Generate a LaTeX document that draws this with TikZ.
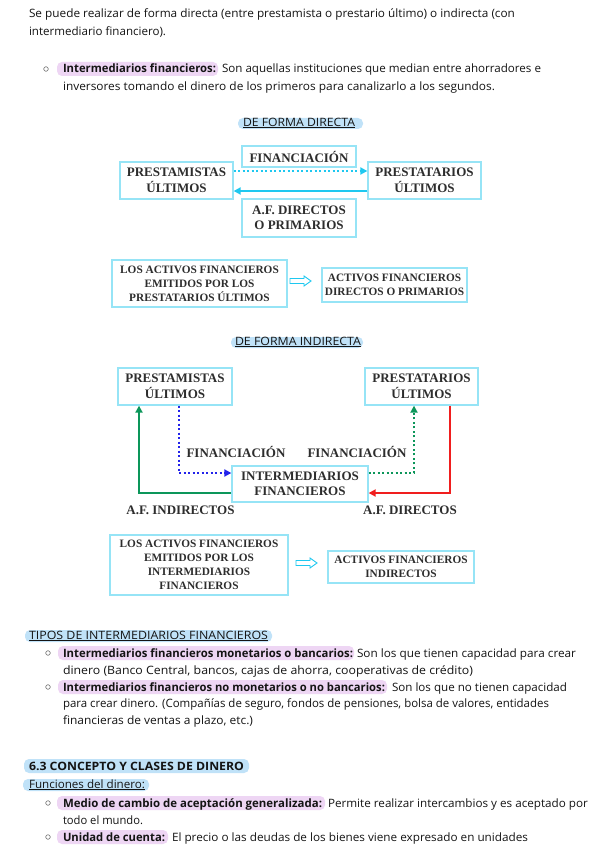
\documentclass[tikz,border=0pt]{standalone}
\usepackage{fontspec}
\usepackage{graphicx}
\usetikzlibrary{arrows.meta}
\newfontfamily\hand{Open Sans}
\newfontfamily\tnr{Liberation Serif}
\definecolor{ink}{RGB}{20,20,20}
\definecolor{dink}{RGB}{45,45,45}
\definecolor{boxc}{RGB}{150,228,246}
\definecolor{cyanar}{RGB}{30,200,240}
\definecolor{bluear}{RGB}{35,35,235}
\definecolor{greenar}{RGB}{12,150,90}
\definecolor{redar}{RGB}{240,30,30}
\definecolor{hlpink}{RGB}{238,214,244}
\definecolor{hlblue}{RGB}{192,226,248}
\newcommand\fitw[2]{\resizebox{#1pt}{\height}{#2}}
\newcommand\tline[5]{\node[txt] (#1) at (#2,#3+4) {\fitw{#4}{#5}};}
\newcommand\bline[5]{\node[txt] (#1) at (#2,#3+4) {\fitw{#4}{\bfseries #5}};}
\begin{document}
\begin{tikzpicture}[x=1pt,y=-1pt,
  txt/.style={anchor=base west,inner sep=0pt,outer sep=0pt,text=ink,font=\hand\fontsize{11.5}{13}\selectfont},
  bul/.style={circle,draw=ink!70,line width=0.5pt,minimum size=4.6pt,inner sep=0pt},
  hlp/.style={fill=hlpink,rounded corners=5pt},
  hlb/.style={fill=hlblue,rounded corners=5pt},
  dbox/.style={draw=boxc,line width=1.3pt,inner sep=0pt,align=center,text=dink,
     font=\tnr\bfseries\fontsize{13}{15.5}\selectfont},
  sbox/.style={draw=boxc,line width=1.3pt,inner sep=0pt,align=center,text=dink,
     font=\tnr\bfseries\fontsize{11.3}{14}\selectfont},
  dlabel/.style={inner sep=0pt,text=dink,font=\tnr\bfseries\fontsize{13}{15.5}\selectfont},
  arr/.style={line width=2pt,-{Triangle[length=7pt,width=7pt]}},
  dotarr/.style={arr,dash pattern=on 2.3pt off 2.2pt},
  hollow/.style={draw=cyanar,line width=0.9pt,fill=white}
]
\useasboundingbox (0,0) rectangle (599,848);
\fill[white] (0,0) rectangle (599,848);

% ---------- top text ----------
\tline{l1}{29}{14}{486}{Se puede realizar de forma directa (entre prestamista o prestario último) o indirecta (con}
\tline{l2}{29}{32}{137}{intermediario financiero).}
\fill[hlp] (57,62) rectangle (218,76);
\node[bul] (b1) at (46,69) {};
\bline{b1b}{63}{69}{153}{Intermediarios financieros:}
\tline{b1r}{222}{69}{319}{Son aquellas instituciones que median entre ahorradores e}
\tline{l4}{63}{87}{432}{inversores tomando el dinero de los primeros para canalizarlo a los segundos.}

% ---------- direct ----------
\fill[hlb] (238,118) rectangle (363,129);
\tline{h1}{243}{122}{112}{\underline{DE FORMA DIRECTA}}

\node[dbox,minimum width=113pt,minimum height=37pt] (pl) at (176.5,180.5) {PRESTAMISTAS\\ÚLTIMOS};
\node[dbox,minimum width=113pt,minimum height=37pt] (pt) at (424.5,180.5) {PRESTATARIOS\\ÚLTIMOS};
\node[dbox,minimum width=114pt,minimum height=21pt] (fin) at (299,156.5) {FINANCIACIÓN};
\node[dbox,minimum width=114pt,minimum height=38pt] (afd) at (299,218) {A.F. DIRECTOS\\O PRIMARIOS};
\draw[dotarr,cyanar] ([yshift=9.5pt]pl.east) -- ([yshift=9.5pt]pt.west);
\draw[arr,cyanar] ([yshift=-10.5pt]pt.west) -- ([yshift=-10.5pt]pl.east);

\node[sbox,minimum width=175pt,minimum height=47pt] (la1) at (199.5,283.5) {LOS ACTIVOS FINANCIEROS\\EMITIDOS POR LOS\\PRESTATARIOS ÚLTIMOS};
\node[sbox,minimum width=145pt,minimum height=34pt] (ad1) at (394.5,285) {ACTIVOS FINANCIEROS\\DIRECTOS O PRIMARIOS};
\coordinate (a1) at (290,281);
\draw[hollow] (a1) ++(0,-2.5) -- ++(14,0) -- ++(0,-2.5) -- ++(7,5) -- ++(-7,5) -- ++(0,-2.5) -- ++(-14,0) -- cycle;

% ---------- indirect ----------
\fill[hlb] (231,337) rectangle (363,348);
\tline{h2}{235}{341}{126}{\underline{DE FORMA INDIRECTA}}

\node[dbox,minimum width=114pt,minimum height=37pt] (pl2) at (175,386.5) {PRESTAMISTAS\\ÚLTIMOS};
\node[dbox,minimum width=113pt,minimum height=37pt] (pt2) at (421.5,386.5) {PRESTATARIOS\\ÚLTIMOS};
\node[dbox,minimum width=136pt,minimum height=36pt] (im) at (300,484) {INTERMEDIARIOS\\FINANCIEROS};
\draw[dotarr,bluear] ([xshift=4pt]pl2.south) |- ([yshift=11pt]im.west);
\draw[dotarr,greenar] ([yshift=11pt]im.east) -| ([xshift=-7.5pt]pt2.south);
\draw[arr,redar] ([xshift=28.5pt]pt2.south) |- ([yshift=-9pt]im.east);
\draw[arr,greenar] ([yshift=-9pt]im.west) -| ([xshift=-36pt]pl2.south);
\node[dlabel] (f1) at (236,452) {FINANCIACIÓN};
\node[dlabel] (f2) at (357,452) {FINANCIACIÓN};
\node[dlabel] (ai) at (180.5,510) {A.F. INDIRECTOS};
\node[dlabel] (ad) at (410,510) {A.F. DIRECTOS};

\node[sbox,minimum width=178pt,minimum height=60pt] (la2) at (199,565) {LOS ACTIVOS FINANCIEROS\\EMITIDOS POR LOS\\INTERMEDIARIOS\\FINANCIEROS};
\node[sbox,minimum width=146pt,minimum height=32pt] (ad2) at (401,567) {ACTIVOS FINANCIEROS\\INDIRECTOS};
\coordinate (a2) at (296,563);
\draw[hollow] (a2) ++(0,-2.5) -- ++(14,0) -- ++(0,-2.5) -- ++(7,5) -- ++(-7,5) -- ++(0,-2.5) -- ++(-14,0) -- cycle;

% ---------- tipos ----------
\fill[hlb] (25,630) rectangle (272,642);
\tline{tip}{29}{635}{239}{\underline{TIPOS DE INTERMEDIARIOS FINANCIEROS}}
\fill[hlp] (58,646) rectangle (354,660);
\node[bul] (b2) at (48,653) {};
\bline{b2b}{63}{653}{290}{Intermediarios financieros monetarios o bancarios:}
\tline{b2r}{357}{653}{219}{Son los que tienen capacidad para crear}
\tline{l6}{63}{670}{410}{dinero (Banco Central, bancos, cajas de ahorra, cooperativas de crédito)}
\fill[hlp] (58,680) rectangle (387,694);
\node[bul] (b3) at (48,687) {};
\bline{b3b}{63}{687}{322}{Intermediarios financieros no monetarios o no bancarios:}
\tline{b3r}{392}{687}{175}{Son los que no tienen capacidad}
\tline{l7}{63}{703}{486}{para crear dinero. (Compañías de seguro, fondos de pensiones, bolsa de valores, entidades}
\tline{l8}{63}{720}{190}{financieras de ventas a plazo, etc.)}

% ---------- 6.3 ----------
\fill[hlb] (24,759) rectangle (249,773);
\bline{s63}{29}{766}{215}{6.3 CONCEPTO Y CLASES DE DINERO}
\fill[hlb] (23,779) rectangle (149,791);
\tline{fun}{29}{784}{116}{\underline{Funciones del dinero:}}
\fill[hlp] (57,796) rectangle (325,810);
\node[bul] (b4) at (48,803) {};
\bline{b4b}{63}{803}{259}{Medio de cambio de aceptación generalizada:}
\tline{b4r}{328}{803}{260}{Permite realizar intercambios y es aceptado por}
\tline{l9}{63}{820}{80}{todo el mundo.}
\fill[hlp] (57,830) rectangle (168,844);
\node[bul] (b5) at (48,837) {};
\bline{b5b}{63}{837}{102}{Unidad de cuenta:}
\tline{b5r}{172}{837}{356}{El precio o las deudas de los bienes viene expresado en unidades}
\end{tikzpicture}
\end{document}
